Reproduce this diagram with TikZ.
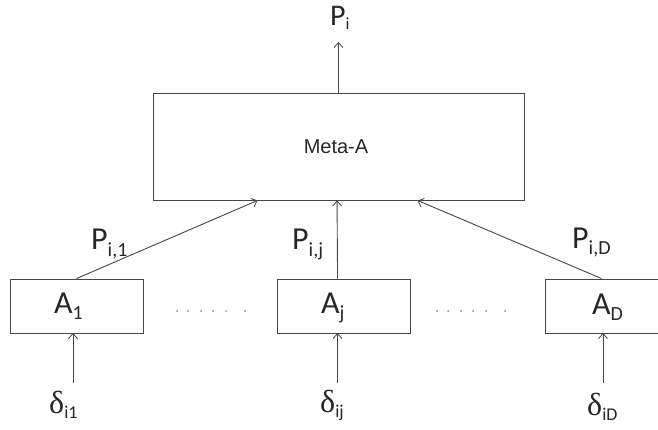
\documentclass[tikz,border=0pt]{standalone}
\usepackage{fontspec}
\setmainfont{Carlito}
\newfontfamily\arialf{Liberation Sans}
\newfontfamily\serifg{Liberation Serif}
\usetikzlibrary{calc,arrows.meta}
\definecolor{ln}{RGB}{70,70,70}
\newcommand\sbx[3][20]{\raisebox{-#2}{\fontsize{#1}{#1}\selectfont #3}}
\newcommand\dlt{{\serifg\fontsize{32}{32}\selectfont δ}}
\tikzset{
  box/.style={draw=ln, line width=0.9pt, minimum height=54pt, inner sep=0pt},
  conn/.style={draw=ln, line width=0.9pt, -{Straight Barb[length=5pt,width=9pt,line width=0.8pt]}},
  lbl/.style={font=\fontsize{32}{34}\selectfont, inner sep=0pt, text=black!85, anchor=base west},
  dotc/.style={fill=black!45, draw=none},
}
\begin{document}
\begin{tikzpicture}[x=1pt,y=-1pt]
\useasboundingbox (0,0) rectangle (658,430);
% meta box
\node[box, minimum width=371pt, minimum height=107pt, font=\arialf\fontsize{20}{24}\selectfont, text=black!85] (meta) at (338.5,146.5) {\hspace*{-5pt}Meta-A};
\node[lbl, font=\fontsize{30}{32}\selectfont] (pi) at (330,26) {P\sbx[17]{4pt}{i}};
\coordinate (pitop) at (338.5,42);
\draw[conn] (meta.north) -- (pitop);
% algorithm boxes
\node[box, minimum width=133pt] (a1) at (76.5,306) {};
\node[box, minimum width=133pt] (aj) at (343.5,306) {};
\node[box, minimum width=133pt] (aD) at (611.5,306) {};
\node[lbl] (ta1) at (54,313) {A\sbx{6pt}{1}};
\node[lbl] (taj) at (321,313) {A\sbx{6pt}{j}};
\node[lbl] (taD) at (592,314) {A\sbx{6pt}{D}};
% meta inputs
\coordinate (m1) at ($(meta.south west)+(105,0)$);
\coordinate (mj) at ($(meta.south west)+(184.5,0)$);
\coordinate (mD) at ($(meta.south west)+(265,0)$);
\coordinate (ajtop) at ($(aj.north west)+(61,0)$);
\coordinate (aDtop) at ($(aD.north west)+(57,0)$);
\draw[conn] (a1.north) -- (m1);
\draw[conn] (ajtop) -- (mj);
\draw[conn] (aDtop) -- (mD);
\node[lbl] (p1) at (91,250) {P\sbx{6pt}{i,1}};
\node[lbl] (pj) at (292,250) {P\sbx{6pt}{i,j}};
\node[lbl] (pD) at (572,248) {P\sbx{6pt}{i,D}};
% deltas
\node[lbl] (d1) at (49,413) {\dlt\sbx[18]{5pt}{i1}};
\node[lbl] (dj) at (320,412) {\dlt\sbx[18]{5pt}{ij}};
\node[lbl] (dD) at (587,415) {\dlt\sbx[18]{5pt}{iD}};
\coordinate (d1s) at (73,383);
\coordinate (djs) at (337.5,383);
\coordinate (dDs) at (603,383);
\coordinate (a1b) at (73,333);
\coordinate (ajb) at (337.5,333);
\coordinate (aDb) at (603,333);
\draw[conn] (d1s) -- (a1b);
\draw[conn] (djs) -- (ajb);
\draw[conn] (dDs) -- (aDb);
% dots
\foreach \x in {177,188,201,213,226,245}{
  \fill[dotc] (\x,311) circle (1pt);
  \fill[dotc] (\x+260,311) circle (1pt);
}
\end{tikzpicture}
\end{document}
